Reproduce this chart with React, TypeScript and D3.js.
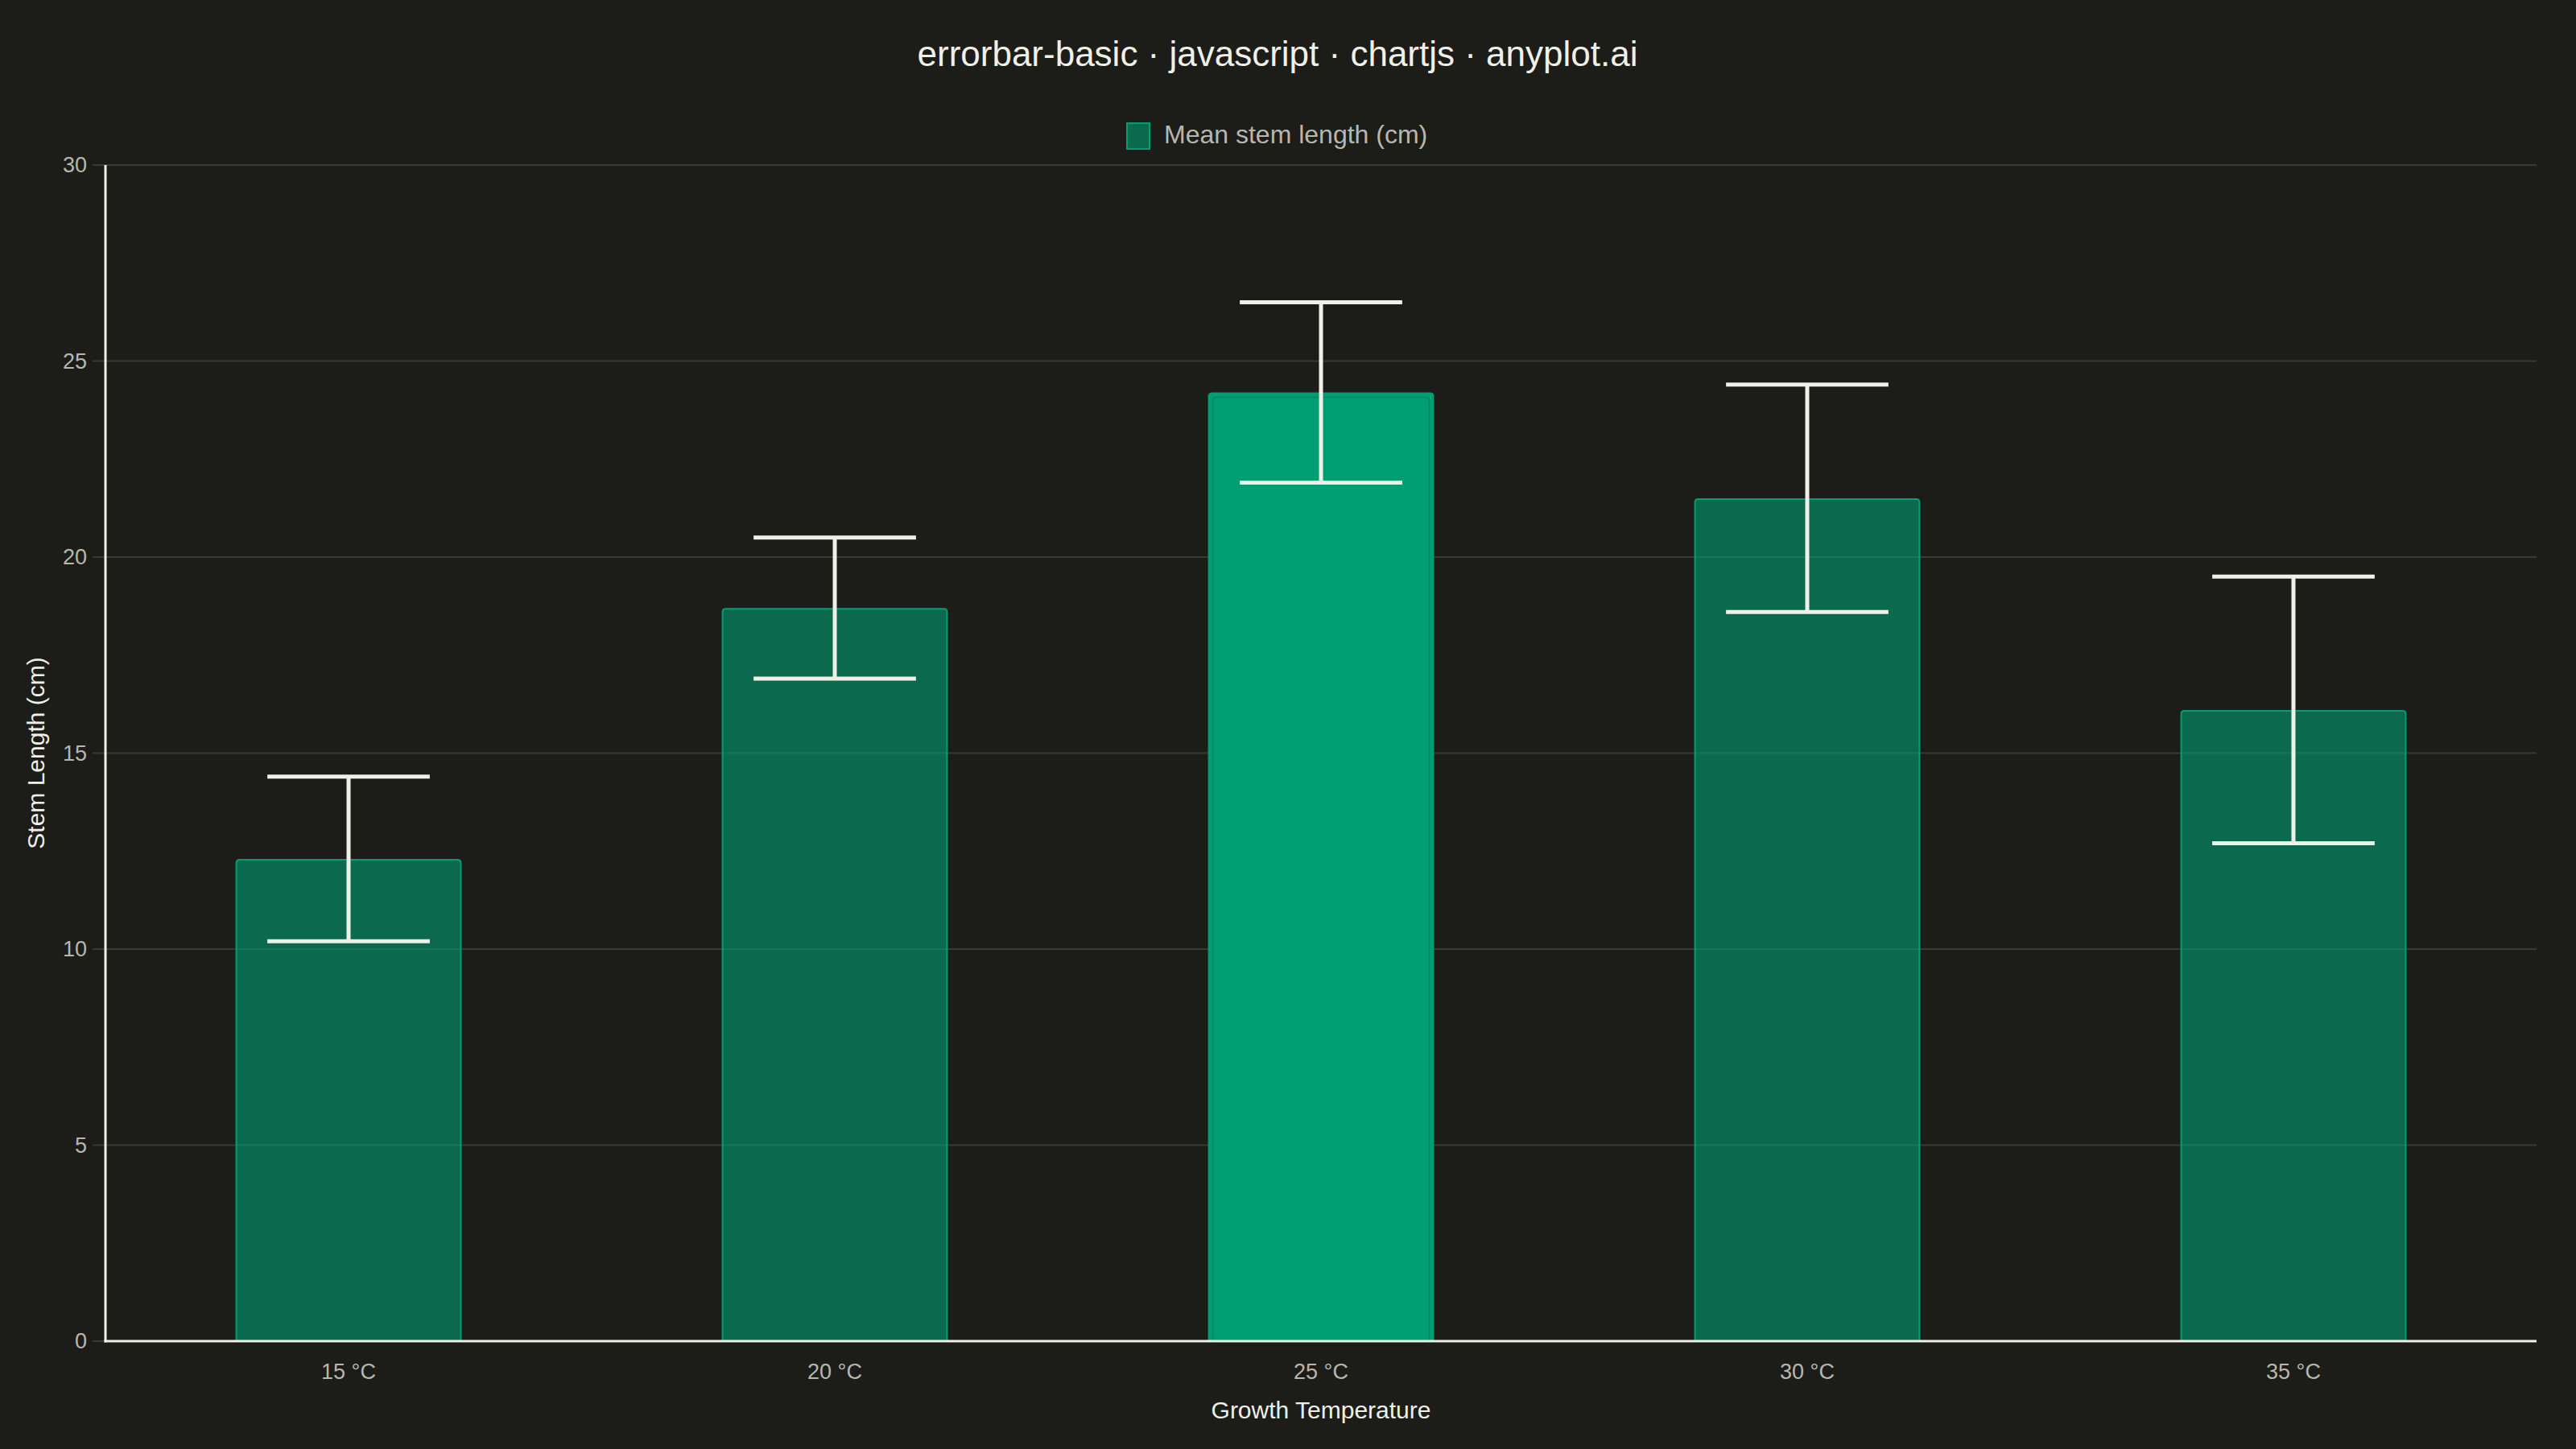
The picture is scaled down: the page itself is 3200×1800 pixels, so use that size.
import { useEffect, useRef } from 'react';
import * as d3 from 'd3';

// Growth temperature categories and measured stem lengths
const categories = ['15 °C', '20 °C', '25 °C', '30 °C', '35 °C'];
const meanLength = [12.3, 18.7, 24.2, 21.5, 16.1];
const errorSize = [2.1, 1.8, 2.3, 2.9, 3.4];
const yTicks = [0, 5, 10, 15, 20, 25, 30];

const W = 3200;
const H = 1800;
const BG = '#1C1C18';
const INK = '#F0EFE8';
const MUTED = '#B8B7AF';
const GRID = '#3A3A35';
const GREEN = '#009E73';
const FONT = '"Liberation Sans", Arial, sans-serif';

export default function App() {
  const svgRef = useRef<SVGSVGElement>(null);

  useEffect(() => {
    document.body.style.margin = '0';
    document.body.style.background = BG;
    if (!svgRef.current) return;

    const svg = d3.select(svgRef.current);
    svg.selectAll('*').remove();

    const left = 131;
    const right = 3151;
    const top = 205;
    const bottom = 1666;

    const x = d3.scaleBand<string>().domain(categories).range([left, right]).padding(0);
    const y = d3.scaleLinear().domain([0, 30]).range([bottom, top]);

    svg.append('rect').attr('width', W).attr('height', H).attr('fill', BG);

    // title
    svg.append('text')
      .attr('x', 1587)
      .attr('y', 82)
      .attr('text-anchor', 'middle')
      .attr('fill', INK)
      .attr('font-family', FONT)
      .attr('font-size', 44)
      .text('errorbar-basic · javascript · chartjs · anyplot.ai');

    // legend
    svg.append('rect')
      .attr('x', 1400).attr('y', 153).attr('width', 28).attr('height', 32)
      .attr('fill', GREEN).attr('fill-opacity', 0.6)
      .attr('stroke', GREEN).attr('stroke-width', 2);
    svg.append('text')
      .attr('x', 1446)
      .attr('y', 178)
      .attr('fill', MUTED)
      .attr('font-family', FONT)
      .attr('font-size', 32)
      .text('Mean stem length (cm)');

    // grid lines + y ticks
    const grid = svg.append('g');
    yTicks.forEach(t => {
      grid.append('line')
        .attr('x1', left - 16).attr('x2', t === 0 ? left : right)
        .attr('y1', y(t)).attr('y2', y(t))
        .attr('stroke', GRID).attr('stroke-width', 2);
      grid.append('text')
        .attr('x', 108)
        .attr('y', y(t))
        .attr('dy', '0.35em')
        .attr('text-anchor', 'end')
        .attr('fill', MUTED)
        .attr('font-family', FONT)
        .attr('font-size', 27)
        .text(t);
    });

    // bars
    const band = x.bandwidth();
    const barW = band * 0.465;
    const maxVal = d3.max(meanLength)!;
    const r = 4;
    const barPath = (x0: number, y0: number, w: number, y1: number) => {
      const p = d3.path();
      p.moveTo(x0, y1);
      p.lineTo(x0, y0 + r);
      p.quadraticCurveTo(x0, y0, x0 + r, y0);
      p.lineTo(x0 + w - r, y0);
      p.quadraticCurveTo(x0 + w, y0, x0 + w, y0 + r);
      p.lineTo(x0 + w, y1);
      p.closePath();
      return p.toString();
    };

    categories.forEach((c, i) => {
      const cx = x(c)! + band / 2;
      const x0 = cx - barW / 2;
      const y0 = y(meanLength[i]);
      const hi = meanLength[i] === maxVal;
      svg.append('path')
        .attr('d', barPath(x0 + 1, y0 + 1, barW - 2, bottom))
        .attr('fill', GREEN)
        .attr('fill-opacity', hi ? 1 : 0.6)
        .attr('stroke', GREEN)
        .attr('stroke-width', 2);
      if (hi) {
        svg.append('path')
          .attr('d', barPath(x0 + 6, y0 + 6, barW - 12, bottom))
          .attr('fill', 'none')
          .attr('stroke', '#00835F')
          .attr('stroke-width', 1.5);
      }
    });

    // axis lines
    svg.append('line')
      .attr('x1', left).attr('x2', left).attr('y1', top).attr('y2', bottom + 1.5)
      .attr('stroke', INK).attr('stroke-width', 3);
    svg.append('line')
      .attr('x1', left - 1.5).attr('x2', right).attr('y1', bottom).attr('y2', bottom)
      .attr('stroke', INK).attr('stroke-width', 3);

    // error bars
    const capW = band * 0.334;
    categories.forEach((c, i) => {
      const cx = x(c)! + band / 2;
      const yHi = y(meanLength[i] + errorSize[i]);
      const yLo = y(meanLength[i] - errorSize[i]);
      const g = svg.append('g').attr('stroke', INK).attr('stroke-width', 5);
      g.append('line').attr('x1', cx).attr('x2', cx).attr('y1', yHi).attr('y2', yLo);
      g.append('line').attr('x1', cx - capW / 2).attr('x2', cx + capW / 2).attr('y1', yHi).attr('y2', yHi);
      g.append('line').attr('x1', cx - capW / 2).attr('x2', cx + capW / 2).attr('y1', yLo).attr('y2', yLo);
    });

    // x tick labels
    categories.forEach(c => {
      svg.append('text')
        .attr('x', x(c)! + band / 2)
        .attr('y', 1713)
        .attr('text-anchor', 'middle')
        .attr('fill', MUTED)
        .attr('font-family', FONT)
        .attr('font-size', 27)
        .text(c);
    });

    // axis titles
    svg.append('text')
      .attr('x', (left + right) / 2)
      .attr('y', 1762)
      .attr('text-anchor', 'middle')
      .attr('fill', INK)
      .attr('font-family', FONT)
      .attr('font-size', 30)
      .text('Growth Temperature');

    svg.append('text')
      .attr('transform', `translate(55, ${(top + bottom) / 2}) rotate(-90)`)
      .attr('text-anchor', 'middle')
      .attr('fill', INK)
      .attr('font-family', FONT)
      .attr('font-size', 30)
      .text('Stem Length (cm)');
  }, []);

  return <svg ref={svgRef} width={W} height={H} style={{ display: 'block' }} />;
}
